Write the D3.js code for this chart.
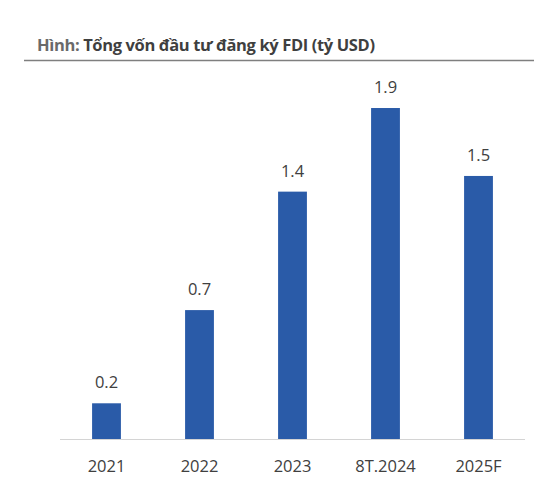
<!DOCTYPE html>
<html>
<head>
<meta charset="utf-8">
<script src="https://cdn.jsdelivr.net/npm/d3@7"></script>
<style>
  html, body { margin: 0; padding: 0; background: #ffffff; }
  svg { display: block; }
</style>
</head>
<body>
<svg id="chart" width="534" height="500"></svg>
<script>
const categories = ["2021", "2022", "2023", "8T.2024", "2025F"];
const values = [0.205, 0.74, 1.42, 1.9, 1.51];
const valueLabels = ["0.2", "0.7", "1.4", "1.9", "1.5"];
const titlePrefix = "Hình: ";
const titleMain = "Tổng vốn đầu tư đăng ký FDI (tỷ USD)";

const svg = d3.select("#chart");
const font = "'Open Sans', 'Noto Sans', sans-serif";

// Title
const title = svg.append("text")
  .attr("x", 37).attr("y", 51)
  .attr("font-family", font)
  .attr("font-size", 16.5)
  .attr("font-weight", 700)
  .attr("textLength", 338)
  .attr("lengthAdjust", "spacing");
title.append("tspan").attr("fill", "#6a6a6a").text(titlePrefix);
title.append("tspan").attr("fill", "#3f3f3f").text(titleMain);

svg.append("line")
  .attr("x1", 24).attr("x2", 534)
  .attr("y1", 60.5).attr("y2", 60.5)
  .attr("stroke", "#7f7f7f").attr("stroke-width", 1.5);

// Scales
const x = d3.scaleBand().domain(categories).range([60, 525]).paddingInner(0.69).paddingOuter(0.345);
const y = d3.scaleLinear().domain([0, 2]).range([439, 90.6]);

// Bars
svg.append("g").selectAll("rect")
  .data(values)
  .join("rect")
  .attr("x", (d, i) => x(categories[i]))
  .attr("width", x.bandwidth())
  .attr("y", d => y(d))
  .attr("height", d => y(0) - y(d))
  .attr("fill", "#2a5ba8");

// Value labels
svg.append("g").selectAll("text")
  .data(values)
  .join("text")
  .attr("x", (d, i) => x(categories[i]) + x.bandwidth() / 2)
  .attr("y", d => y(d) - 15)
  .attr("text-anchor", "middle")
  .attr("font-family", font)
  .attr("font-size", 16.5)
  .attr("fill", "#404040")
  .text((d, i) => valueLabels[i]);

// X axis
const xAxis = svg.append("g")
  .attr("transform", `translate(0,${y(0)})`)
  .call(d3.axisBottom(x).tickSize(0).tickPadding(21).tickSizeOuter(0));
xAxis.select(".domain").attr("stroke", "#d4d4d4").attr("stroke-width", 1.2)
  .attr("d", "M60,0.5H525");
xAxis.selectAll("text")
  .attr("font-family", font)
  .attr("font-size", 16.5)
  .attr("fill", "#404040")
  .attr("dy", "0.71em");
</script>
</body>
</html>
